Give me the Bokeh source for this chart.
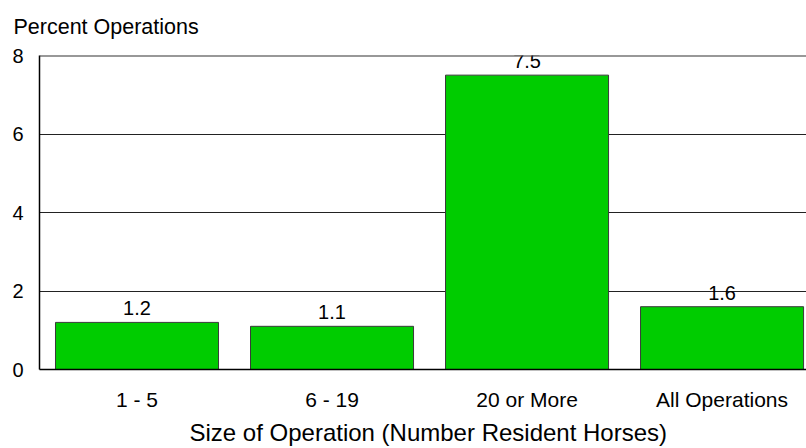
from bokeh.plotting import figure
from bokeh.models import Range1d, FixedTicker, ColumnDataSource, Span, Title
from bokeh.core.properties import value
from bokeh.embed import file_html
from bokeh.resources import INLINE

categories = ["1 - 5", "6 - 19", "20 or More", "All Operations"]
percent = [1.2, 1.1, 7.5, 1.6]
y_ticks = [0, 2, 4, 6, 8]

FONT = "Liberation Sans"
GREEN = "#00CC00"

xs = [i + 1 for i in range(len(categories))]
src = ColumnDataSource(dict(x=xs, top=percent, label=[f"{v:.1f}" for v in percent]))

p = figure(width=806, height=448, output_backend="svg", toolbar_location=None,
           x_range=Range1d(0.5, 4.433), y_range=Range1d(0, 8),
           min_border_left=39, min_border_right=0, min_border_top=0, min_border_bottom=75)

p.title.text = "Percent Operations"
p.title.align = "left"
p.title.vertical_align = "top"
p.title.offset = -26
p.title.text_font = FONT
p.title.text_font_size = "21.5px"
p.title.text_font_style = "normal"
p.title.text_color = "black"
p.title.standoff = 29

p.outline_line_color = None
p.background_fill_color = "white"

p.vbar(x="x", top="top", width=0.836, source=src, fill_color=GREEN,
       line_color="#3a3a3a", line_width=1)

p.text(x="x", y="top", text="label", source=src, text_align="center",
       text_baseline="bottom", y_offset=-7, text_font=value(FONT),
       text_font_size="20px", text_color="black")

p.xgrid.visible = False
p.ygrid.ticker = FixedTicker(ticks=y_ticks)
p.ygrid.grid_line_color = "#222222"
p.ygrid.grid_line_width = 1

top_line = Span(location=8, dimension="width", line_color="#333333", line_width=2)
p.add_layout(top_line)

p.xaxis.ticker = FixedTicker(ticks=xs)
p.xaxis.major_label_overrides = {x: c for x, c in zip(xs, categories)}
p.xaxis.major_tick_line_color = None
p.xaxis.minor_tick_line_color = None
p.xaxis.major_tick_out = 0
p.xaxis.major_tick_in = 0
p.xaxis.major_label_standoff = 18
p.xaxis.major_label_text_font = FONT
p.xaxis.major_label_text_font_size = "21px"
p.xaxis.major_label_text_color = "black"
p.xaxis.axis_line_color = "black"
p.xaxis.axis_line_width = 1.5

x_title = Title(text="Size of Operation (Number Resident Horses)", align="left",
                offset=150, standoff=6, text_font=FONT, text_font_size="24px",
                text_font_style="normal", text_color="black")
p.add_layout(x_title, "below")

p.yaxis.ticker = FixedTicker(ticks=y_ticks)
p.yaxis.major_tick_line_color = None
p.yaxis.minor_tick_line_color = None
p.yaxis.major_tick_out = 0
p.yaxis.major_tick_in = 0
p.yaxis.major_label_standoff = 16
p.yaxis.major_label_text_font = FONT
p.yaxis.major_label_text_font_size = "20px"
p.yaxis.major_label_text_color = "black"
p.yaxis.axis_line_color = "black"
p.yaxis.axis_line_width = 1.5

open("out.html", "w").write(file_html(p, INLINE))
